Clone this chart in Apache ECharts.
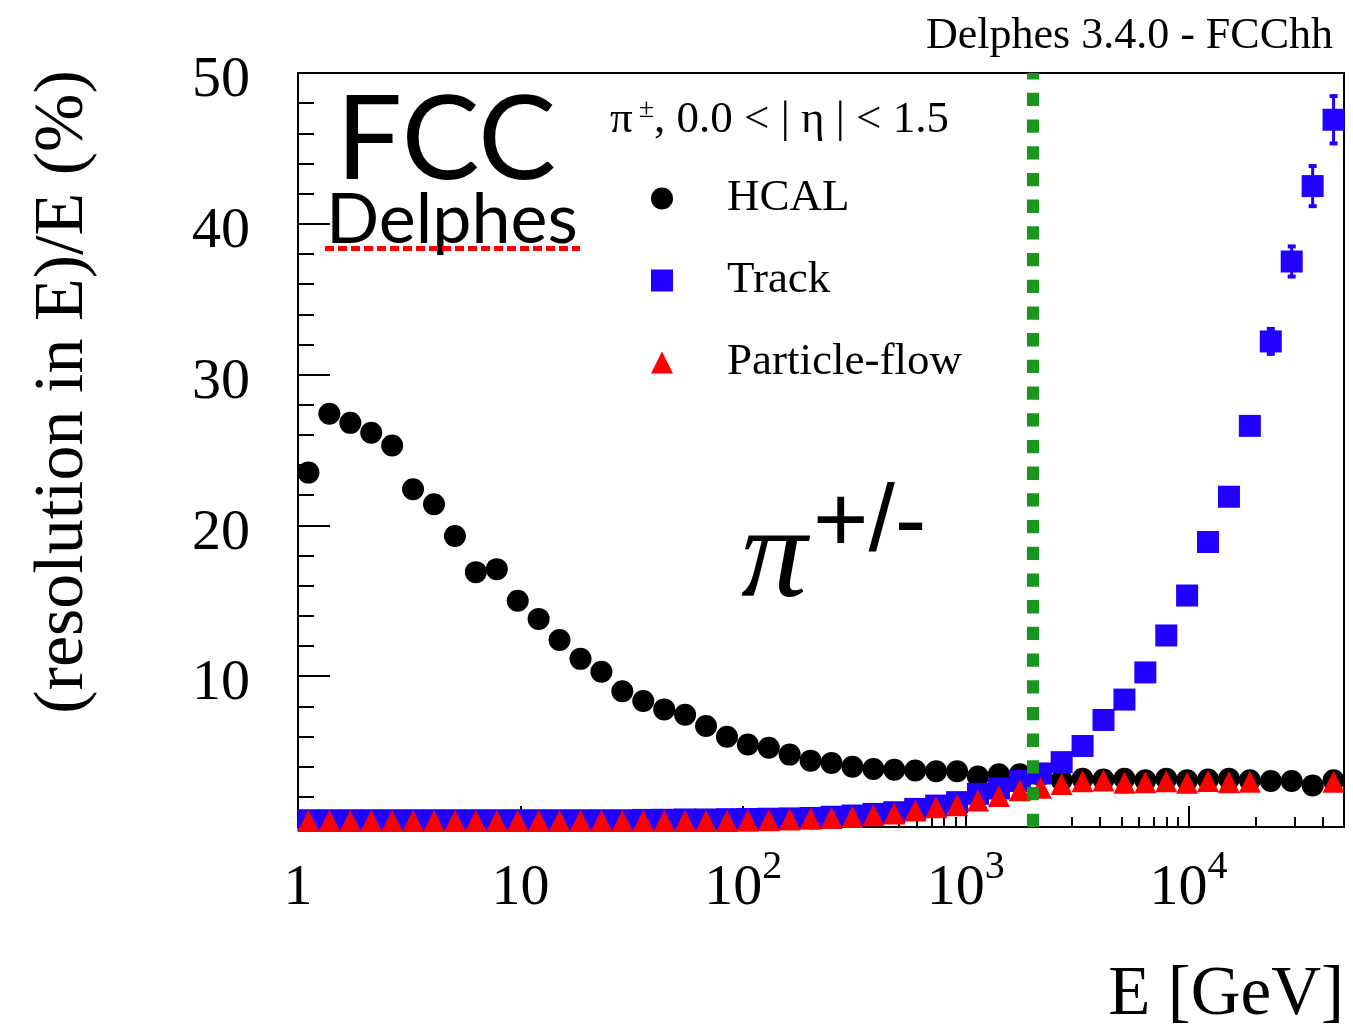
<!DOCTYPE html>
<html>
<head>
<meta charset="utf-8">
<script src="https://cdn.jsdelivr.net/npm/echarts@6/dist/echarts.min.js"></script>
<style>
  html, body { margin: 0; padding: 0; background: #fff; }
  #chart { width: 1353px; height: 1032px; }
</style>
</head>
<body>
<div id="chart"></div>
<script>
// bin centres in GeV (50 log bins from 1 to 5e4)
const energy = [1.114, 1.383, 1.718, 2.133, 2.648, 3.288, 4.083, 5.070, 6.295, 7.817,
  9.706, 12.05, 14.96, 18.58, 23.07, 28.64, 35.56, 44.16, 54.83, 68.08,
  84.53, 104.9, 130.3, 161.7, 200.8, 249.3, 309.6, 384.4, 477.3, 592.6,
  735.8, 913.6, 1134, 1408, 1748, 2171, 2695, 3346, 4155, 5159,
  6405, 7953, 9866, 12250, 15210, 18880, 23450, 29110, 36150, 44880];

// resolution in %
const hcal = [23.5, 27.4, 26.8, 26.15, 25.3, 22.4, 21.4, 19.3, 16.9, 17.1,
  15.0, 13.8, 12.4, 11.15, 10.3, 9.0, 8.35, 7.8, 7.45, 6.7,
  5.98, 5.47, 5.25, 4.8, 4.4, 4.25, 4.0, 3.85, 3.8, 3.75,
  3.7, 3.7, 3.35, 3.5, 3.5, 3.45, 3.1, 3.2, 3.15, 3.2,
  3.1, 3.2, 3.1, 3.15, 3.2, 3.1, 3.05, 3.05, 2.75, 3.1];

const track = [0.45, 0.45, 0.45, 0.45, 0.45, 0.45, 0.45, 0.45, 0.45, 0.45,
  0.45, 0.45, 0.45, 0.45, 0.45, 0.45, 0.47, 0.48, 0.5, 0.5,
  0.52, 0.53, 0.55, 0.57, 0.6, 0.68, 0.76, 0.87, 0.98, 1.2,
  1.42, 1.65, 2.2, 2.55, 3.05, 3.55, 4.3, 5.37, 7.1, 8.45,
  10.25, 12.7, 15.35, 18.9, 21.9, 26.6, 32.2, 37.5, 42.5, 46.9];

const trackErr = [0, 0, 0, 0, 0, 0, 0, 0, 0, 0,
  0, 0, 0, 0, 0, 0, 0, 0, 0, 0,
  0, 0, 0, 0, 0, 0, 0, 0, 0, 0,
  0, 0, 0, 0, 0, 0, 0, 0, 0, 0,
  0, 0, 0, 0, 0, 0, 0.83, 1.0, 1.33, 1.57];

const pflow = [0.4, 0.4, 0.4, 0.4, 0.4, 0.4, 0.4, 0.4, 0.4, 0.4,
  0.4, 0.4, 0.4, 0.4, 0.4, 0.4, 0.4, 0.4, 0.4, 0.4,
  0.4, 0.42, 0.45, 0.5, 0.55, 0.6, 0.67, 0.78, 0.89, 1.09,
  1.31, 1.44, 1.75, 2.06, 2.43, 2.6, 2.85, 3.03, 3.09, 2.93,
  2.97, 3.03, 2.93, 3.05, 2.97, 3.0, null, null, null, 3.0];

const xMin = 1, xMax = 50000;
const yMin = 0, yMax = 50, yStep = 10;
const cutEnergy = 2000;  // green dashed line

const SERIF = '"Liberation Serif", "Times New Roman", serif';
const SANS = '"Liberation Sans", Arial, sans-serif';
const LOGO = 'Lato, "Open Sans", sans-serif';

// minor ticks at 2..9 x 10^n, placed on a hidden log10 axis
const minorTicks = [];
for (let n = 0; n < 5; n++) {
  for (let k = 2; k <= 9; k++) {
    const v = k * Math.pow(10, n);
    if (v < xMax) minorTicks.push(Math.log10(v));
  }
}

const pairs = arr => energy.map((e, i) => [e, arr[i]]).filter(p => p[1] != null);
const errData = energy.map((e, i) => [e, track[i], trackErr[i]]).filter(p => p[2] > 0);

const chart = echarts.init(document.getElementById('chart'));

chart.setOption({
  animation: false,
  backgroundColor: '#fff',
  grid: {
    left: 298, right: 9, top: 73, bottom: 205,
    show: true, borderColor: '#000', borderWidth: 2
  },
  legend: {
    data: ['HCAL', 'Track', 'Particle-flow'],
    orient: 'vertical',
    left: 651, top: 176,
    padding: 0,
    itemWidth: 22, itemHeight: 22, itemGap: 37,
    selectedMode: false,
    textStyle: { fontFamily: SERIF, fontSize: 45, color: '#000', lineHeight: 45, padding: [0, 0, 0, 49] }
  },
  xAxis: [{
    type: 'log', logBase: 10, min: xMin, max: xMax,
    axisLine: { show: true, lineStyle: { color: '#000', width: 2 } },
    axisTick: { show: true, inside: true, length: 21, lineStyle: { color: '#000', width: 2 } },
    splitLine: { show: false },
    axisLabel: {
      margin: 20,
      fontFamily: SERIF, fontSize: 58, color: '#000', lineHeight: 83,
      formatter: v => {
        const p = Math.round(Math.log10(v));
        if (Math.abs(Math.pow(10, p) - v) > 1e-6 * v) return '';
        if (p === 0) return '1';
        if (p === 1) return '10';
        return '10{sup|' + p + '}';
      },
      rich: {
        sup: { fontFamily: SERIF, fontSize: 40, lineHeight: 40, verticalAlign: 'top', color: '#000' }
      }
    }
  }, {
    type: 'value', min: 0, max: Math.log10(xMax),
    position: 'bottom',
    axisLine: { show: false },
    axisLabel: { show: false },
    splitLine: { show: false },
    axisTick: { show: true, inside: true, length: 10, customValues: minorTicks, lineStyle: { color: '#000', width: 2 } }
  }],
  yAxis: {
    type: 'value', min: yMin, max: yMax, interval: yStep,
    axisLine: { show: true, lineStyle: { color: '#000', width: 2 } },
    axisTick: { show: true, inside: true, length: 32, lineStyle: { color: '#000', width: 2 } },
    minorTick: { show: true, splitNumber: 5, length: 16, lineStyle: { color: '#000', width: 2 } },
    splitLine: { show: false },
    axisLabel: {
      margin: 48,
      formatter: v => (v === 0 ? '' : '{n|' + v + '}'),
      rich: {
        n: { fontFamily: SERIF, fontSize: 58, color: '#000', padding: [16, 0, 0, 0] }
      }
    }
  },
  series: [{
    name: 'HCAL', type: 'scatter', z: 2,
    symbol: 'circle', symbolSize: 22,
    itemStyle: { color: '#000', opacity: 1 },
    data: pairs(hcal)
  }, {
    name: 'Track', type: 'scatter', z: 3,
    symbol: 'rect', symbolSize: 22,
    itemStyle: { color: '#2200ff', opacity: 1 },
    data: pairs(track)
  }, {
    name: 'Track errors', type: 'custom', z: 3,
    data: errData,
    renderItem: (params, api) => {
      const x = api.value(0), y = api.value(1), e = api.value(2);
      const lo = api.coord([x, y - e]);
      const hi = api.coord([x, y + e]);
      const st = { stroke: '#2200ff', lineWidth: 3 };
      const cap = { stroke: '#2200ff', lineWidth: 4 };
      return {
        type: 'group',
        children: [
          { type: 'line', shape: { x1: lo[0], y1: lo[1], x2: hi[0], y2: hi[1] }, style: st },
          { type: 'line', shape: { x1: lo[0] - 4, y1: lo[1], x2: lo[0] + 4, y2: lo[1] }, style: cap },
          { type: 'line', shape: { x1: hi[0] - 4, y1: hi[1], x2: hi[0] + 4, y2: hi[1] }, style: cap }
        ]
      };
    }
  }, {
    name: 'Particle-flow', type: 'scatter', z: 4,
    symbol: 'triangle', symbolSize: 22,
    itemStyle: { color: '#ff0000', opacity: 1 },
    data: pairs(pflow),
    markLine: {
      silent: true, symbol: 'none', label: { show: false },
      lineStyle: { color: '#1a961e', width: 12, type: [13.3, 13.4] },
      data: [{ xAxis: cutEnergy }]
    }
  }],
  graphic: [{
    type: 'text', x: 64, y: 392, rotation: Math.PI / 2,
    style: { text: '(resolution in E)/E (%)', font: '70px ' + SERIF, fill: '#000', align: 'center', verticalAlign: 'middle' }
  }, {
    type: 'text', x: 1333, y: 36,
    style: { text: 'Delphes 3.4.0 - FCChh', font: '44px ' + SERIF, fill: '#000', align: 'right', verticalAlign: 'middle' }
  }, {
    type: 'text', x: 336, y: 141,
    style: { text: 'FCC', font: '117px ' + LOGO, fill: '#000', align: 'left', verticalAlign: 'middle' }
  }, {
    type: 'text', x: 326, y: 220,
    style: { text: 'Delphes', font: '70px ' + LOGO, fill: '#000', align: 'left', verticalAlign: 'middle' }
  }, {
    type: 'line',
    shape: { x1: 325, y1: 248.5, x2: 580, y2: 248.5 },
    style: { stroke: '#ff0000', lineWidth: 5, lineDash: [9, 4] }
  }, {
    type: 'text', x: 610, y: 120,
    style: {
      text: '{t|π}{s|±}{t|, 0.0 < | η | < 1.5}',
      align: 'left', verticalAlign: 'middle',
      rich: {
        t: { fontFamily: SERIF, fontSize: 45, color: '#000', lineHeight: 48 },
        s: { fontFamily: SERIF, fontSize: 28, color: '#000', lineHeight: 48, verticalAlign: 'top', padding: [0, 0, 0, 6] }
      }
    }
  }, {
    type: 'text', x: 741, y: 561,
    style: { text: 'π', font: 'italic 132px ' + SERIF, fill: '#000', align: 'left', verticalAlign: 'middle' }
  }, {
    type: 'text', x: 813, y: 525,
    style: { text: '+/-', font: '95px ' + SANS, fill: '#000', align: 'left', verticalAlign: 'middle' }
  }, {
    type: 'text', x: 1344, y: 996,
    style: { text: 'E [GeV]', font: '69px ' + SERIF, fill: '#000', align: 'right', verticalAlign: 'middle' }
  }]
});
</script>
</body>
</html>
